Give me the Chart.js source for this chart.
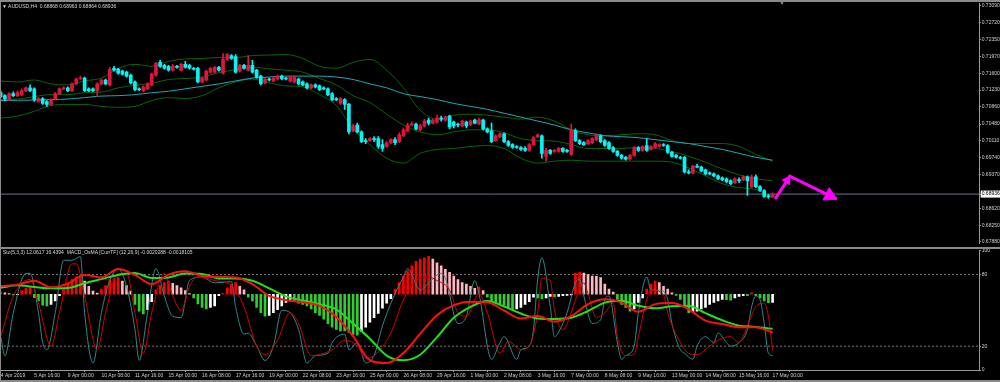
<!DOCTYPE html>
<html><head><meta charset="utf-8"><title>AUDUSD H4</title>
<script src="https://cdn.jsdelivr.net/npm/chart.js@4.4.1/dist/chart.umd.min.js"></script>
<style>
html,body{margin:0;padding:0;background:#000;width:1000px;height:382px;overflow:hidden;font-family:"Liberation Sans",Arial,sans-serif}
canvas{position:absolute;left:0}
#c1{top:0}
#c2{top:247px}
.ln{position:absolute;background:#8a8a8a}
.txt{position:absolute;font-size:5px;line-height:5px;color:#d6d6d6;white-space:pre}
</style></head><body>
<canvas id="c1" width="1000" height="247"></canvas>
<canvas id="c2" width="1000" height="135"></canvas>
<div class="ln" style="left:0;top:0;width:1000px;height:2px"></div>
<div class="ln" style="left:0;top:247px;width:1000px;height:2px"></div>
<div class="ln" style="left:0;top:380px;width:1000px;height:2px"></div>
<div class="ln" style="left:0;top:0;width:1px;height:382px"></div>
<div class="txt" id="t1" style="left:2px;top:4px"></div>
<div class="txt" id="t2" style="left:3px;top:250px"></div>
<div class="txt" style="left:779px;top:1px;color:#8a8a8a;font-size:6px">&#9660;</div>
<script>
// ---------- DATA ----------
const opens = [0.71171,0.71106,0.71020,0.71149,0.71106,0.71128,0.71214,0.71279,0.71257,0.70977,
0.71042,0.70977,0.70912,0.71042,0.71149,0.71257,0.71279,0.71214,0.71365,0.71473,
0.71494,0.71257,0.71257,0.71214,0.71365,0.71451,0.71343,0.71710,0.71688,0.71645,
0.71624,0.71559,0.71408,0.71257,0.71214,0.71257,0.71343,0.71559,0.71839,0.71775,
0.71753,0.71667,0.71753,0.71667,0.71796,0.71775,0.71710,0.71710,0.71408,0.71451,
0.71624,0.71624,0.71731,0.71602,0.71904,0.71990,0.71969,0.71645,0.71775,0.71667,
0.71775,0.71667,0.71537,0.71387,0.71473,0.71430,0.71473,0.71537,0.71494,0.71430,
0.71408,0.71473,0.71408,0.71365,0.71279,0.71343,0.71322,0.71279,0.71257,0.71149,
0.71042,0.70934,0.71020,0.70912,0.70330,0.70459,0.70308,0.70114,0.70114,0.70158,
0.70158,0.70028,0.69985,0.70071,0.70136,0.70093,0.70222,0.70330,0.70459,0.70481,
0.70352,0.70438,0.70567,0.70502,0.70524,0.70610,0.70567,0.70653,0.70524,0.70481,
0.70438,0.70524,0.70459,0.70567,0.70481,0.70567,0.70373,0.70330,0.70114,0.70201,
0.70265,0.70093,0.70028,0.69985,0.69963,0.69942,0.69899,0.70028,0.70201,0.70222,
0.69769,0.69899,0.69877,0.69877,0.69942,0.69899,0.69813,0.70330,0.70114,0.70071,
0.70050,0.70071,0.70136,0.70222,0.70114,0.70071,0.69963,0.69877,0.69791,0.69748,
0.69705,0.69791,0.69963,0.69899,0.70007,0.69920,0.69963,0.69985,0.70028,0.70007,
0.69856,0.69791,0.69748,0.69748,0.69425,0.69403,0.69554,0.69532,0.69468,0.69403,
0.69381,0.69338,0.69295,0.69274,0.69231,0.69187,0.69252,0.69252,0.69317,0.69101,
0.69317,0.69101,0.69015,0.68886,0.68868];
const highs = [0.71214,0.71128,0.71171,0.71192,0.71214,0.71257,0.71300,0.71343,0.71279,0.71063,
0.71063,0.70998,0.71042,0.71171,0.71279,0.71300,0.71300,0.71387,0.71494,0.71537,
0.71516,0.71279,0.71279,0.71387,0.71473,0.71473,0.71731,0.71753,0.71710,0.71667,
0.71645,0.71581,0.71430,0.71279,0.71322,0.71387,0.71602,0.71839,0.71882,0.71796,
0.71775,0.71796,0.71775,0.71818,0.71861,0.71796,0.71731,0.71731,0.71516,0.71667,
0.71731,0.71753,0.71753,0.72033,0.72033,0.72012,0.72012,0.71796,0.71796,0.71990,
0.71882,0.71688,0.71559,0.71494,0.71494,0.71516,0.71559,0.71559,0.71516,0.71537,
0.71537,0.71494,0.71430,0.71387,0.71365,0.71365,0.71343,0.71300,0.71279,0.71171,
0.71063,0.71063,0.71042,0.70934,0.70481,0.70502,0.70330,0.70158,0.70179,0.70201,
0.70201,0.70136,0.70093,0.70158,0.70179,0.70287,0.70395,0.70502,0.70524,0.70502,
0.70481,0.70589,0.70610,0.70589,0.70675,0.70653,0.70653,0.70675,0.70546,0.70502,
0.70567,0.70546,0.70567,0.70589,0.70610,0.70589,0.70395,0.70502,0.70244,0.70287,
0.70287,0.70114,0.70050,0.70007,0.69985,0.69985,0.70050,0.70201,0.70265,0.70244,
0.69942,0.69920,0.69920,0.69963,0.69963,0.69920,0.70481,0.70373,0.70136,0.70093,
0.70136,0.70179,0.70265,0.70244,0.70136,0.70093,0.69985,0.69899,0.69813,0.69769,
0.69813,0.69985,0.69985,0.70007,0.70158,0.70007,0.70071,0.70050,0.70050,0.70028,
0.69877,0.69813,0.69769,0.69769,0.69468,0.69575,0.69597,0.69554,0.69489,0.69425,
0.69403,0.69360,0.69317,0.69295,0.69252,0.69295,0.69295,0.69338,0.69338,0.69360,
0.69360,0.69123,0.69037,0.68929,0.68963];
const lows = [0.71063,0.70998,0.70998,0.71085,0.71085,0.71106,0.71192,0.71192,0.70977,0.70955,
0.70912,0.70869,0.70891,0.71020,0.71128,0.71236,0.71192,0.71192,0.71343,0.71462,
0.71192,0.71192,0.71192,0.71085,0.71343,0.71343,0.71322,0.71645,0.71581,0.71559,
0.71516,0.71365,0.71214,0.71214,0.71192,0.71236,0.71322,0.71537,0.71731,0.71688,
0.71645,0.71645,0.71710,0.71645,0.71710,0.71688,0.71667,0.71387,0.71387,0.71430,
0.71602,0.71602,0.71645,0.71581,0.71882,0.71904,0.71602,0.71624,0.71688,0.71645,
0.71602,0.71494,0.71343,0.71365,0.71430,0.71408,0.71451,0.71451,0.71451,0.71408,
0.71387,0.71343,0.71322,0.71257,0.71257,0.71279,0.71214,0.71236,0.71106,0.70998,
0.70998,0.70912,0.70804,0.70265,0.70308,0.70287,0.70071,0.70050,0.70093,0.70093,
0.69942,0.69877,0.69963,0.70050,0.70028,0.70071,0.70201,0.70308,0.70438,0.70352,
0.70330,0.70416,0.70459,0.70481,0.70502,0.70546,0.70546,0.70373,0.70395,0.70416,
0.70416,0.70395,0.70438,0.70481,0.70459,0.70352,0.70287,0.70071,0.70093,0.70179,
0.70071,0.69985,0.69942,0.69942,0.69899,0.69877,0.69877,0.70007,0.70179,0.69726,
0.69662,0.69813,0.69856,0.69856,0.69856,0.69856,0.69791,0.70093,0.70028,0.70007,
0.70028,0.70050,0.70114,0.70071,0.69985,0.69920,0.69856,0.69769,0.69705,0.69683,
0.69683,0.69769,0.69877,0.69877,0.69877,0.69910,0.69942,0.69963,0.69985,0.69834,
0.69748,0.69726,0.69705,0.69403,0.69381,0.69381,0.69511,0.69425,0.69360,0.69360,
0.69317,0.69252,0.69231,0.69187,0.69144,0.69166,0.69187,0.69231,0.68907,0.69080,
0.69080,0.68993,0.68864,0.68843,0.68864];
const closes = [0.71085,0.71042,0.71149,0.71106,0.71171,0.71214,0.71279,0.71214,0.71020,0.71042,
0.70934,0.70912,0.71020,0.71149,0.71257,0.71279,0.71214,0.71365,0.71473,0.71494,
0.71214,0.71214,0.71214,0.71365,0.71451,0.71365,0.71688,0.71667,0.71602,0.71581,
0.71537,0.71387,0.71236,0.71236,0.71300,0.71365,0.71581,0.71818,0.71753,0.71710,
0.71667,0.71753,0.71731,0.71796,0.71731,0.71710,0.71688,0.71408,0.71494,0.71645,
0.71710,0.71731,0.71667,0.71904,0.72012,0.71926,0.71624,0.71775,0.71710,0.71775,
0.71624,0.71516,0.71365,0.71473,0.71451,0.71494,0.71537,0.71473,0.71473,0.71516,
0.71516,0.71365,0.71343,0.71279,0.71343,0.71300,0.71236,0.71257,0.71128,0.71020,
0.71020,0.71042,0.70912,0.70308,0.70438,0.70308,0.70093,0.70093,0.70158,0.70136,
0.69985,0.69942,0.70071,0.70136,0.70071,0.70244,0.70352,0.70459,0.70481,0.70373,
0.70438,0.70546,0.70502,0.70567,0.70610,0.70589,0.70632,0.70416,0.70438,0.70459,
0.70546,0.70438,0.70546,0.70502,0.70567,0.70373,0.70308,0.70093,0.70222,0.70265,
0.70093,0.70007,0.69963,0.69963,0.69920,0.69899,0.70028,0.70179,0.70244,0.69834,
0.69899,0.69834,0.69899,0.69942,0.69877,0.69877,0.70352,0.70114,0.70050,0.70028,
0.70114,0.70158,0.70222,0.70093,0.70007,0.69942,0.69877,0.69791,0.69726,0.69705,
0.69791,0.69963,0.69899,0.69985,0.69899,0.69985,0.70050,0.70028,0.70007,0.69856,
0.69769,0.69748,0.69726,0.69425,0.69403,0.69554,0.69532,0.69446,0.69381,0.69381,
0.69338,0.69274,0.69252,0.69209,0.69166,0.69274,0.69231,0.69317,0.69231,0.69317,
0.69101,0.69015,0.68886,0.68875,0.68936];

// Bollinger bands (20) and moving average, sampled every 4 bars
const bandBars = [0,4,8,12,16,20,24,28,32,36,40,44,48,52,56,60,64,68,72,76,80,84,88,92,96,100,104,108,112,116,120,124,128,132,136,140,144,148,152,156,160,164,168,172,176,180,184];
const bandUpper = [0.71430,0.71408,0.71451,0.71365,0.71343,0.71430,0.71494,0.71710,0.71796,0.71753,0.71861,0.71915,0.71926,0.71947,0.71947,0.71990,0.72001,0.72012,0.71926,0.71753,0.71710,0.71839,0.71904,0.71667,0.71279,0.70783,0.70589,0.70675,0.70697,0.70675,0.70632,0.70589,0.70632,0.70546,0.70352,0.70244,0.70222,0.70244,0.70265,0.70244,0.70114,0.70050,0.70050,0.70050,0.69985,0.69813,0.69662];
const bandMiddle = [0.71020,0.71031,0.71085,0.71128,0.71128,0.71171,0.71182,0.71279,0.71333,0.71376,0.71462,0.71484,0.71516,0.71613,0.71678,0.71731,0.71699,0.71667,0.71624,0.71484,0.71343,0.71106,0.70955,0.70697,0.70459,0.70308,0.70244,0.70308,0.70352,0.70352,0.70287,0.70158,0.70114,0.70104,0.70028,0.69942,0.69942,0.69942,0.69963,0.69942,0.69877,0.69769,0.69640,0.69489,0.69360,0.69274,0.69231];
const bandLower = [0.70610,0.70653,0.70761,0.70891,0.70912,0.70912,0.70869,0.70848,0.70869,0.70998,0.71063,0.71042,0.71106,0.71279,0.71408,0.71473,0.71387,0.71322,0.71300,0.71128,0.70891,0.70373,0.70028,0.69726,0.69619,0.69834,0.69920,0.69942,0.69985,0.70007,0.69942,0.69726,0.69619,0.69662,0.69683,0.69662,0.69662,0.69662,0.69662,0.69662,0.69640,0.69511,0.69338,0.69166,0.69080,0.69037,0.68864];
const maLine = [0.70998,0.71003,0.71009,0.71020,0.71031,0.71063,0.71096,0.71106,0.71128,0.71171,0.71203,0.71257,0.71311,0.71365,0.71430,0.71494,0.71516,0.71537,0.71537,0.71537,0.71516,0.71462,0.71365,0.71279,0.71149,0.71085,0.71020,0.70934,0.70869,0.70804,0.70718,0.70632,0.70546,0.70459,0.70352,0.70287,0.70222,0.70201,0.70179,0.70136,0.70093,0.70050,0.69985,0.69920,0.69834,0.69748,0.69683];

// MACD (12,26,9) in units of 0.0001, sampled at bandBars
const macdMain = [7.4,8.2,10.5,6.6,8.8,14,12.5,17.5,14,8.5,14.2,16.2,13.4,12.8,12.5,8.5,1.5,-1,-2.3,-4.4,-11,-22.5,-36.8,-38.5,-32.5,-21,-10,-4,-2,-2.3,-7.2,-12,-10.5,-13.8,-10.5,-3.4,-0.5,-2.5,-8,-3.4,-2.8,-6.5,-13.2,-15.2,-17.2,-17.2,-20.288];
const macdSignal = [6.4,7.8,6.8,6,6.2,9,11.5,14,15.1,12.2,12.5,14.8,14.6,11.9,11.9,10.5,6,1.2,-1.2,-3.4,-6.5,-15,-24,-34,-36.8,-33.5,-23,-11.5,-5,-1.6,-4.8,-9,-11.9,-12.2,-11.5,-7.5,-2.5,-1.4,-4.4,-5.9,-4.7,-4.4,-8.8,-13,-16.2,-17,-18.105];
// OsMA histogram per bar (relative units)
const osma = [0.3,0.2,0.1,-0.1,-0.05,0.5,0.8,0.9,-0.45,-0.9,
-1.5,-1.6,-1.4,-0.9,-0.2,0.9,1.6,2.0,2.4,2.6,
1.8,1.1,0.45,0.15,0.7,1.2,2.0,2.1,2.3,1.8,
1.2,0.45,-1.4,-2.3,-2.7,-2.1,-1.0,0.6,1.2,1.6,
1.8,1.5,1.2,0.9,0.5,0.1,-0.5,-1.3,-1.8,-2.0,
-1.8,-1.6,-0.2,0.1,0.9,1.4,1.6,1.1,0.6,-0.4,
-0.9,-1.8,-2.5,-3.0,-2.9,-2.5,-2.1,-1.6,-1.1,-0.9,
-1.0,-1.2,-1.4,-1.6,-2.0,-2.5,-2.9,-3.4,-4.0,-4.5,
-4.8,-5.0,-5.0,-5.2,-5.5,-5.6,-5.1,-4.5,-3.8,-3.2,
-2.6,-1.9,-1.2,-0.6,0.7,1.6,2.5,3.2,3.9,4.5,
4.8,5.0,5.2,4.8,4.3,3.9,3.4,3.0,2.5,2.0,
1.6,1.4,1.1,0.8,1.0,0.5,-0.4,-0.9,-1.1,-1.3,
-1.5,-1.9,-2.1,-2.0,-1.8,-1.4,-1.0,-0.4,-0.5,-0.6,
-0.5,-0.3,-0.35,-0.3,-0.2,-0.15,-0.1,2.9,3.0,2.9,
2.7,2.5,2.45,2.3,1.4,0.7,0.3,-0.7,-1.4,-1.8,
-2.3,-2.0,-1.1,-0.5,0.7,1.4,1.8,1.6,1.1,0.7,
0.2,-0.15,-0.7,-1.6,-2.5,-2.4,-2.3,-2.0,-1.8,-1.4,
-1.1,-0.9,-0.7,-0.75,-0.8,-0.5,-0.3,-0.2,-0.2,0.2,
-0.2,-0.5,-0.9,-1.15,-1.1];

// Stochastic (5,3,3)
const stochMainBars = [0,1,3,6,7,9,10,11,13,15,17,19,20,22,24,26,28,30,32,33,35,37,39,41,43,45,48,51,55,56,58,59,61,63,65,67,69,71,73,75,78,79,82,83,85,87,89,91,94,96,97,100,102,105,106,109,111,113,114,117,119,120,123,124,126,127,128,129,131,132,134,135,137,138,139,141,143,144,145,147,148,149,151,152,154,155,157,159,160,162,163,165,166,168,170,171,173,174,176,178,179,180,181,182,183,184];
const stochMain = [28,12,48,81,81,48,23,17,48,92,92,95,48,6,48,75,85,70,34,8,48,85,62,45,44,75,78,73,74,53,30,31,20,8,20,50,48,34,6,12,14,23,30,17,23,6,12,37,64,78,85,67,73,81,77,39,45,75,64,9,23,28,9,17,20,34,76,94,53,28,39,48,73,76,62,39,42,59,62,23,9,12,20,48,78,67,67,59,39,17,14,9,20,28,23,31,23,20,23,34,53,62,59,39,14,12.0617];
const stochSigBars = [0,3,7,9,12,14,17,18,20,23,25,28,30,32,34,36,39,41,43,45,47,51,55,58,61,63,66,69,71,74,77,79,82,85,87,89,93,96,99,102,104,107,109,111,114,116,119,121,124,126,128,129,131,132,134,136,137,139,140,142,144,146,147,149,151,152,154,155,158,159,162,164,166,169,171,174,176,178,180,182,183,184];
const stochSig = [28,62,76,56,20,48,89,89,62,17,48,81,81,48,14,48,81,62,50,70,78,75,71,53,20,13,25,48,39,12,14,17,25,20,10,12,31,59,75,78,75,67,48,45,64,48,14,24,17,20,48,77,75,50,34,48,59,73,64,44,48,56,28,12,13,28,59,67,63,48,23,14,13,20,25,28,23,37,53,56,45,16.4394];
const stochLevels = [20, 80];

// Axis ticks
const priceTicks = [0.73090,0.72720,0.72350,0.71970,0.71600,0.71230,0.70860,0.70480,0.70110,0.69740,0.69370,0.68620,0.68250,0.67880];
const stochTicks = [0, 20, 80, 100];
const tickBars = [0,8,16,24,32,40,48,56,64,72,80,88,96,104,112,120,128,136,144,152,160,168,176,184];
const tickLabels = ['4 Apr 2019','5 Apr 16:00','9 Apr 00:00','10 Apr 08:00','11 Apr 16:00','15 Apr 00:00','16 Apr 08:00','17 Apr 16:00','19 Apr 00:00','22 Apr 08:00','23 Apr 16:00','25 Apr 00:00','26 Apr 08:00','29 Apr 16:00','1 May 00:00','2 May 08:00','3 May 16:00','7 May 00:00','8 May 08:00','9 May 16:00','13 May 00:00','14 May 08:00','15 May 16:00','17 May 00:00'];

// Hand-drawn arrows (bar index, price)
const arrowBars = [184.6, 188.1, 199.3];
const arrowPrices = [0.68827, 0.69332, 0.68827];
const headBars = [187.5, 197.6];
const headPrices = [0.69241, 0.68903];
const headAngles = [33, 116];
const headSizes = [5, 8];

// ---------- CHART ----------
const xMin = -0.17, xMax = 233.2;
const last = closes.length - 1;
const lastClose = closes[last];
const axisTicks = priceTicks.concat([lastClose]).sort((a,b)=>b-a);
const FONT = {family:'Liberation Sans', size:5};
const AX = '#9a9a9a', TXT = '#d0d0d0';

document.getElementById('t1').textContent = '\u25BC AUDUSD,H4  ' + [opens[last],highs[last],lows[last],closes[last]].map(v=>v.toFixed(5)).join(' ');
document.getElementById('t2').textContent = 'Sto(5,3,3) ' + stochMain[stochMain.length-1].toFixed(4) + ' ' + stochSig[stochSig.length-1].toFixed(4) +
  '  MACD_OsMA [CurrTF] (12,26,9) ' + (macdMain[macdMain.length-1]/1e4).toFixed(7) + ' ' + (macdSignal[macdSignal.length-1]/1e4).toFixed(7);

const pts = (xs, ys) => xs.map((x,k)=>({x:x, y:ys[k]}));
const UP = '#E0143C', DN = '#00F5F5';
const candleCol = opens.map((o,i)=> closes[i] >= o ? UP : DN);
const lineDs = (data, color, width, order, extra) => Object.assign({type:'line', data, borderColor:color, borderWidth:width, pointRadius:0, fill:false, cubicInterpolationMode:'monotone', order}, extra||{});

new Chart(document.getElementById('c1'), {
  type:'bar',
  data:{datasets:[
    lineDs(pts(bandBars, bandUpper), '#0a640a', 1, 8),
    lineDs(pts(bandBars, bandMiddle), '#0a640a', 1, 8),
    lineDs(pts(bandBars, bandLower), '#0a640a', 1, 8),
    lineDs(pts(bandBars, maLine), '#1fa9b3', 1, 7),
    lineDs([{x:xMin,y:lastClose},{x:xMax,y:lastClose}], '#6b7585', 1, 9, {cubicInterpolationMode:'default'}),
    {type:'bar', data: lows.map((l,i)=>({x:i, y:[l, highs[i]]})), backgroundColor:candleCol, barThickness:1, grouped:false, order:4},
    {type:'bar', data: opens.map((o,i)=>({x:i, y:[o, closes[i]]})), backgroundColor:candleCol, barThickness:3, minBarLength:1, grouped:false, order:3},
    lineDs(pts(arrowBars, arrowPrices), '#ff00ff', 3, 2, {cubicInterpolationMode:'default', tension:0}),
    {type:'line', data: pts(headBars, headPrices), showLine:false, pointStyle:'triangle', pointRadius:headSizes, pointRotation:headAngles, backgroundColor:'#ff00ff', borderColor:'#ff00ff', borderWidth:1, order:1}
  ]},
  options:{
    responsive:false, animation:false, devicePixelRatio:1,
    layout:{autoPadding:false, padding:{top:2,left:0,right:0,bottom:0}},
    plugins:{legend:{display:false}, tooltip:{enabled:false}},
    scales:{
      x:{type:'linear', min:xMin, max:xMax, display:false, offset:false},
      y:{position:'right', min:0.67851, max:0.73133,
        afterFit:s=>{s.width=21;},
        afterBuildTicks:s=>{s.ticks = axisTicks.map(v=>({value:v}));},
        ticks:{autoSkip:false, font:FONT, padding:0.7, callback:v=>v.toFixed(5),
          color:c=> (c.tick && c.tick.value===lastClose) ? '#000' : TXT,
          showLabelBackdrop:c=> !!(c.tick && c.tick.value===lastClose),
          backdropColor:'#ffffff', backdropPadding:{left:1,right:2,top:0.5,bottom:0.5}},
        grid:{drawOnChartArea:false, drawTicks:true, tickLength:2, color:AX},
        border:{color:AX, width:1}
      }
    }
  }
});

const histCol = osma.map((v,i)=>{ const p = i ? osma[i-1] : v; if (v >= 0) return v >= p ? '#ff0000' : '#ffb6c1'; return v <= p ? '#32cd32' : '#ffffff'; });

new Chart(document.getElementById('c2'), {
  type:'bar',
  data:{datasets:[
    lineDs([{x:xMin,y:stochLevels[0]},{x:xMax,y:stochLevels[0]}], '#7a7a7a', 1, 9, {borderDash:[2,2], cubicInterpolationMode:'default'}),
    lineDs([{x:xMin,y:stochLevels[1]},{x:xMax,y:stochLevels[1]}], '#7a7a7a', 1, 9, {borderDash:[2,2], cubicInterpolationMode:'default'}),
    {type:'bar', yAxisID:'yh', data: osma.map((v,i)=>({x:i, y:v})), backgroundColor:histCol, barThickness:2, grouped:false, order:8},
    lineDs(pts(stochMainBars, stochMain), '#2c8a8a', 1, 5),
    lineDs(pts(stochSigBars, stochSig), '#d00000', 1, 4),
    lineDs(pts(bandBars, macdSignal), '#22dd22', 2, 3, {yAxisID:'ym'}),
    lineDs(pts(bandBars, macdMain), '#ff1010', 2, 2, {yAxisID:'ym'})
  ]},
  options:{
    responsive:false, animation:false, devicePixelRatio:1,
    layout:{autoPadding:false, padding:{top:2.2,left:0,right:0,bottom:0}},
    plugins:{legend:{display:false}, tooltip:{enabled:false}},
    scales:{
      x:{type:'linear', min:xMin, max:xMax, position:'bottom', offset:false,
        afterFit:s=>{s.height=12;},
        afterBuildTicks:s=>{s.ticks = tickBars.map(v=>({value:v}));},
        ticks:{autoSkip:false, maxRotation:0, align:'start', font:FONT, color:TXT, padding:0.5,
          callback:(v,i)=>tickLabels[i]},
        grid:{drawOnChartArea:false, drawTicks:true, tickLength:2, color:AX},
        border:{color:AX, width:1}
      },
      y:{position:'right', min:0, max:100,
        afterFit:s=>{s.width=21;},
        afterBuildTicks:s=>{s.ticks = stochTicks.map(v=>({value:v}));},
        ticks:{autoSkip:false, font:FONT, color:TXT, padding:0.7, callback:v=>String(v)},
        grid:{drawOnChartArea:false, drawTicks:true, tickLength:2, color:AX},
        border:{color:AX, width:1}
      },
      yh:{display:false, min:-10.35, max:5.96},
      ym:{display:false, min:-42.6, max:28.4}
    }
  }
});
</script>
</body></html>
